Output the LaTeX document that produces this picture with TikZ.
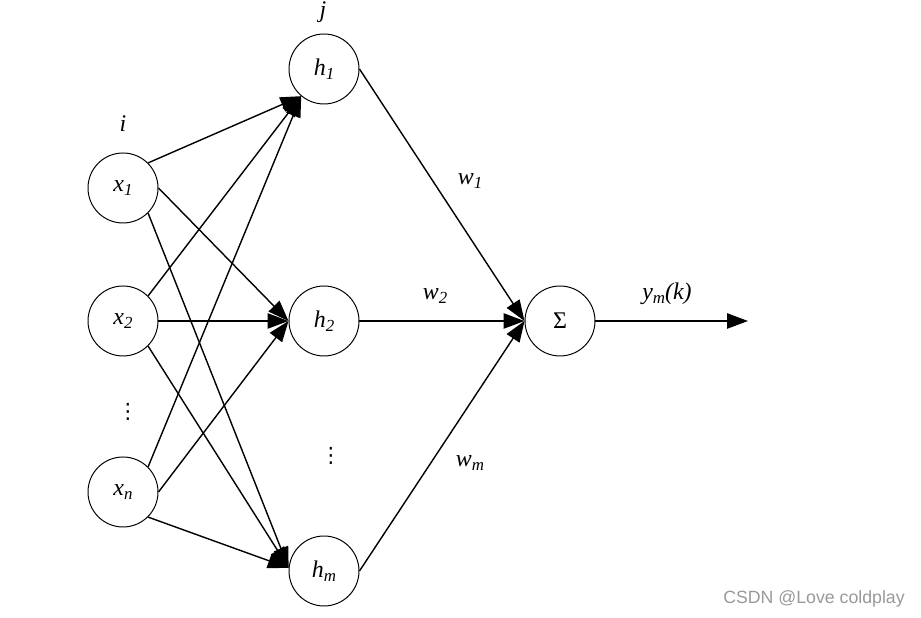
\documentclass[tikz,border=0pt]{standalone}
\usepackage{fontspec}
\setmainfont{Liberation Serif}
\newfontfamily\wmfont{Liberation Sans}
\newfontfamily\symfont{DejaVu Sans}
\usetikzlibrary{arrows.meta}
\tikzset{
  lbl/.style={font=\fontsize{17}{19}\selectfont\itshape},
  neuron/.style={draw,circle,minimum size=1.75cm,inner sep=0pt,line width=0.7pt,lbl},
  link/.style={-{Triangle[length=0.52cm,width=0.38cm]},line width=1pt},
  vdots/.style={font=\symfont\fontsize{15}{17}\selectfont}
}
\newcommand{\nsub}[2]{#1\raisebox{-0.35ex}{\fontsize{12}{12}\selectfont #2}}
\begin{document}
\begin{tikzpicture}
\useasboundingbox (0,0) rectangle (23.025,15.45);

% Entrees
\node[neuron] (x1) at (3.075,10.75) {\nsub{x}{1}};
\node[neuron] (x2) at (3.075,7.425) {\nsub{x}{2}};
\node[neuron] (xn) at (3.075,3.15) {\nsub{x}{n}};
\node[lbl] (li) at (3.075,12.35) {i};
\node[vdots] (dx) at (3.2,5.15) {⋮};

% Couche cachee
\node[neuron] (h1) at (8.1,13.725) {\nsub{h}{1}};
\node[neuron] (h2) at (8.1,7.425) {\nsub{h}{2}};
\node[neuron] (hm) at (8.1,1.175) {\nsub{h}{m}};
\node[lbl] (lj) at (8.075,15.15) {j};
\node[vdots] (dh) at (8.275,4.05) {⋮};

% Somme
\node[neuron,font=\fontsize{17}{19}\selectfont] (sum) at (14.0,7.425) {Σ};
\coordinate (out) at (18.7,7.425);

% Liaisons entree -> cachee
\foreach \x in {x1,x2,xn}{
  \draw[link] (\x.north east) -- (h1.230);
  \draw[link] (\x.east) -- (h2.west);
  \draw[link] (\x.south east) -- (hm.175);
}

% Liaisons cachee -> somme
\draw[link] (h1.east) -- (sum.west);
\draw[link] (h2.east) -- (sum.west);
\draw[link] (hm.east) -- (sum.west);
\draw[link] (sum.east) -- (out);

% Poids
\node[lbl] (w1) at (11.75,10.925) {\nsub{w}{1}};
\node[lbl] (w2) at (10.875,8.05) {\nsub{w}{2}};
\node[lbl] (wm) at (11.75,3.875) {\nsub{w}{m}};
\node[lbl] (ym) at (16.675,8.1) {\nsub{y}{m}(k)};

\node[font=\wmfont\fontsize{12.6}{14}\selectfont,text=black!40] (csdn) at (20.35,0.475) {CSDN @Love coldplay};
\end{tikzpicture}
\end{document}
